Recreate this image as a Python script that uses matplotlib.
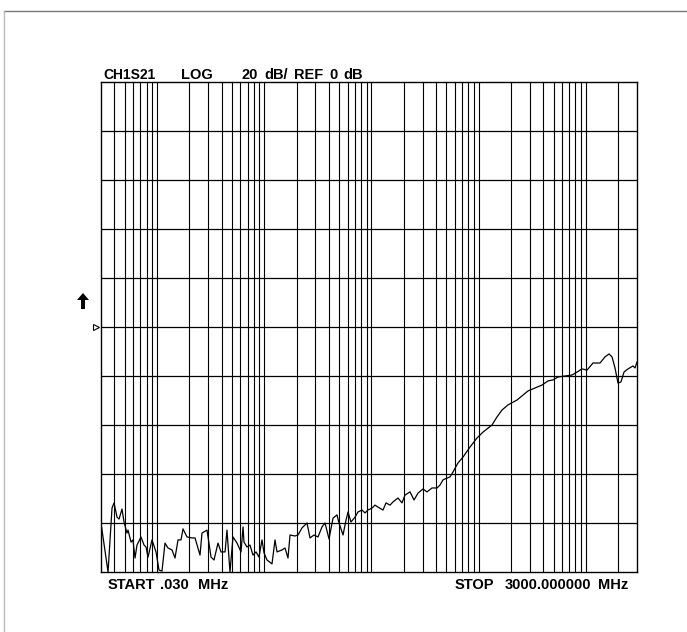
import numpy as np
import matplotlib
matplotlib.use('Agg')
import matplotlib.pyplot as plt
from matplotlib.lines import Line2D
from matplotlib.patches import FancyArrow
from matplotlib.transforms import IdentityTransform

# S21 trace, frequency in MHz, magnitude in dB
freq = [0.030, 0.0349, 0.0380, 0.0397, 0.0423, 0.0442, 0.0471, 0.0492, 0.0524, 0.0536,
        0.0572, 0.0596, 0.0623, 0.0650, 0.0708, 0.0756, 0.0789, 0.0824, 0.0897, 0.0978,
        0.1043, 0.1112, 0.1186, 0.1265, 0.1379, 0.1470, 0.1569, 0.1673, 0.1746, 0.1903,
        0.2119, 0.2260, 0.2516, 0.2626, 0.2924, 0.3187, 0.340, 0.370, 0.395, 0.431,
        0.449, 0.479, 0.511, 0.557, 0.607, 0.634, 0.647, 0.690, 0.736, 0.785,
        0.838, 0.893, 0.953, 0.995, 1.061, 1.181, 1.260, 1.315, 1.464, 1.562,
        1.665, 1.739, 1.936, 2.065, 2.250, 2.505, 2.672, 2.911, 3.172, 3.458,
        3.688, 4.020, 4.380, 4.773, 4.981, 5.430, 5.791, 6.046, 6.445, 7.026,
        7.492, 8.163, 8.706, 9.284, 10.12, 10.79, 11.51, 12.82, 13.67, 14.90,
        15.89, 17.69, 19.27, 20.56, 22.89, 24.95, 27.18, 30.26, 32.97, 36.72,
        40.87, 43.60, 46.50, 48.55, 54.04, 57.64, 64.17, 71.45, 83.03, 96.50,
        109.8, 133.2, 148.3, 165.1, 187.8, 227.9, 259.3, 288.6, 335.5, 389.9,
        443.5, 493.8, 550.0, 639.1, 742.7, 826.8, 920.6, 1025, 1166, 1355,
        1509, 1645, 1754, 1870, 1995, 2127, 2268, 2472, 2753, 2874, 3000]
s21 = [-80.0, -100.0, -73.9, -71.8, -77.6, -78.4, -74.3, -79.6, -84.1, -82.9,
       -87.8, -86.9, -94.3, -89.0, -85.7, -89.0, -89.8, -93.9, -86.9, -91.8,
       -99.2, -99.6, -88.2, -90.2, -91.0, -94.3, -86.9, -86.9, -82.4, -85.7,
       -86.1, -86.1, -93.1, -84.1, -82.9, -93.9, -95.1, -88.2, -91.8, -91.8,
       -82.9, -100.0, -85.7, -88.2, -91.8, -81.6, -87.8, -89.8, -89.0, -93.1,
       -91.8, -93.9, -86.9, -92.2, -95.1, -96.7, -86.9, -91.8, -91.0, -90.2,
       -94.3, -84.9, -85.3, -84.9, -82.0, -80.0, -86.1, -84.9, -85.7, -81.6,
       -80.0, -86.5, -78.0, -76.7, -80.0, -84.9, -78.8, -75.5, -79.6, -77.6,
       -75.5, -74.7, -75.9, -74.7, -73.9, -72.7, -73.5, -74.7, -71.8, -72.7,
       -71.4, -69.8, -71.8, -68.6, -67.3, -70.6, -67.8, -66.1, -67.3, -65.7,
       -65.7, -64.5, -62.4, -62.0, -61.2, -59.2, -55.5, -53.1, -49.0, -45.3,
       -42.9, -40.0, -36.7, -33.9, -31.8, -29.8, -27.8, -26.1, -24.9, -23.7,
       -22.0, -21.6, -20.4, -20.0, -19.6, -18.4, -17.1, -17.6, -14.7, -14.7,
       -12.2, -11.0, -12.2, -16.7, -22.9, -22.4, -18.4, -17.1, -15.9, -16.7, -14.3]

f_start, f_stop = 0.03, 3000.0
ref_db, db_per_div = 0, 20

W, H = 687, 632
fig = plt.figure(figsize=(W / 100, H / 100), dpi=100)
ax = fig.add_axes([101 / W, 60 / H, 536 / W, 490 / H])
ax.set_xscale('log')
ax.set_xlim(f_start, f_stop)
ax.set_ylim(ref_db - 5 * db_per_div, ref_db + 5 * db_per_div)
ax.set_xticks([])
ax.set_yticks([])
ax.minorticks_off()
for s in ax.spines.values():
    s.set_linewidth(1.0)
    s.set_color('black')

# log grid, 1..9 per decade
for k in range(-2, 4):
    for n in range(1, 10):
        v = n * 10.0 ** k
        if f_start < v < f_stop:
            ax.axvline(v, color='black', lw=0.8, zorder=1)
for yv in range(-80, 100, 20):
    ax.axhline(yv, color='black', lw=0.9, zorder=1)

ax.plot(freq, s21, color='black', lw=0.9, zorder=3)

# reference marker
ax.plot([-0.01], [0.5], marker='>', ms=5, mfc='white', mec='black', mew=0.8,
        transform=ax.transAxes, clip_on=False)

fnt = dict(family='Liberation Sans', fontweight='bold', fontsize=10.5, va='baseline')


def px(x, y, s, **kw):
    fig.text(x / W, 1 - y / H, s, **{**fnt, **kw})


px(103, 79, 'CH1S21', fontsize=10)
for x, s in [(181, 'LOG'), (242, '20'), (264, 'dB/'),
             (294, 'REF'), (329, '0'), (343, 'dB')]:
    px(x, 79, s)
for x, s in [(108, 'START'), (160, '.030'), (198, 'MHz'),
             (455, 'STOP'), (505, '3000.000000'), (598, 'MHz')]:
    px(x, 589, s)

# bold up arrow left of the grid (pixel coords)
fig.add_artist(FancyArrow(83, H - 309, 0, 16, width=4, head_width=12, head_length=7,
                          length_includes_head=True, color='black', lw=0,
                          transform=IdentityTransform()))

# outer frame lines
fig.add_artist(Line2D([4 / W, 1], [1 - 11 / H, 1 - 11 / H], color='#777777', lw=1))
fig.add_artist(Line2D([4 / W, 4 / W], [0, 1 - 11 / H], color='#bbbbbb', lw=1))

fig.savefig('out.png', dpi=100)
